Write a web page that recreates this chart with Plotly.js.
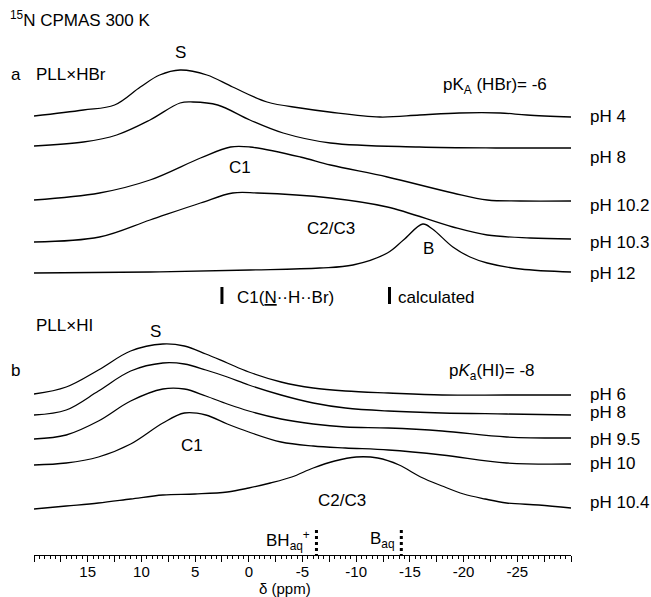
<!DOCTYPE html>
<html>
<head>
<meta charset="utf-8">
<script src="https://cdn.plot.ly/plotly-3.0.1.min.js"></script>
<style>
  html, body { margin: 0; padding: 0; background: #fff; }
  #plot { width: 651px; height: 597px; }
</style>
</head>
<body>
<div id="plot"></div>
<script>
// ---- 15N CPMAS spectra (chemical shift in ppm, intensity in arbitrary units) ----

// (a) PLL x HBr
const labelsA = ["pH 4", "pH 8", "pH 10.2", "pH 10.3", "pH 12"];
const ppmA_pH4   = [20, 15.4, 12.5, 10.1, 8.3, 6.4, 3.9, 1.5, -1.7, -4.8, -7.5, -12.2, -15.9, -19.6, -23.4, -25.9, -30];
const intA_pH4   = [1, 7, 12, 30, 42, 47, 42, 30, 15, 9, 5, 0, 2, 4, 4, 2, 0];
const ppmA_pH8   = [20, 15.4, 12.3, 9.2, 6.4, 5.2, 2.9, -0.1, -3.2, -7.6, -15.9, -23, -30];
const intA_pH8   = [2, 6, 13, 28, 45, 46, 43, 28, 15, 5, 1, 0, 0];
const ppmA_pH102 = [20, 13.9, 9.2, 4.5, 1.7, -0.1, -4.8, -7.6, -12.9, -19.0, -22.2, -25.3, -30];
const intA_pH102 = [1, 8, 21, 43, 54, 54, 44, 36, 24, 8, 1, 0, 0];
const ppmA_pH103 = [20, 13.9, 9.2, 4.5, 1.5, -0.8, -7.6, -12.9, -19.0, -22.2, -26.2, -30];
const intA_pH103 = [-3, 2, 19, 36, 46, 46, 41, 32, 12, 4, 1, 0];
const ppmA_pH12  = [20, 9.2, -0.1, -6.6, -9.7, -12.9, -14.4, -16.2, -17.1, -19.0, -20.6, -22.2, -25.3, -30];
const intA_pH12  = [-1, 0, 2, 4, 7, 19, 32, 48, 43, 25, 15, 9, 3, 0];

// (b) PLL x HI
const labelsB = ["pH 6", "pH 8", "pH 9.5", "pH 10", "pH 10.4"];
const ppmB = [20, 17, 14, 11, 8, 6, 4, 2, 0, -3, -6, -9, -13, -18, -24, -30];
const intB_pH6   = [1, 8, 25, 44, 51, 49, 41, 32, 23, 13, 7, 4, 2, 0, 0, 0];
const intB_pH8   = [0, 5, 24, 44, 52, 51, 45, 38, 30, 20, 12, 7, 4, 2, 1, 0];
const intB_pH95  = [-1, 3, 17, 37, 49, 49, 42, 34, 27, 19, 14, 11, 10, 7, 1, 0];
const intB_pH10  = [-1, 1, 7, 20, 41, 51, 49, 40, 32, 22, 18, 16, 14, 9, 1, 0];
const ppmB_pH104 = [20, 17, 14, 11, 8, 5, 2, 0, -2, -4, -6, -8, -10, -12, -14, -16, -18, -20, -22, -24, -27, -30];
const intB_pH104 = [-1, 2, 5, 9, 13, 14, 16, 20, 25, 31, 40, 47, 51, 50, 43, 31, 22, 14, 9, 5, 3, 0];

// reference shifts (ppm)
const calcShifts = [2.5, -13.1];          // C1(N..H..Br), calculated
const aqShifts   = [-6.3, -14.2];         // BH_aq+, B_aq
const aqLabels   = ["BH<sub>aq</sub><sup>+</sup>", "B<sub>aq</sub>"];

// x-axis ticks
const tickPos  = [20, 17.5, 15, 12.5, 10, 7.5, 5, 2.5, 0, -2.5, -5, -7.5, -10, -12.5, -15, -17.5, -20, -22.5, -25, -27.5, -30];
const tickText = ["", "", "15", "", "10", "", "5", "", "0", "", "-5", "", "-10", "", "-15", "", "-20", "", "-25", "", ""];

// ---- layout geometry (pixels of the 651x597 page) ----
const W = 651, H = 597;
const L = 34, R = 571, AXIS_Y = 555;
const X0 = 20, X1 = -30;
const px2p = px => (px - L) / (R - L);     // page x -> paper x
const py2p = py => (AXIS_Y - py) / AXIS_Y; // page y -> paper y
const py2y = py => AXIS_Y - py;            // page y -> data y

// stacking: baseline row (page pixel) of each spectrum, and label row
const rowsA   = [117, 148, 201, 239, 272];
const labRowA = [117, 157, 205, 242, 273];
const rowsB   = [395, 415, 438, 464, 508];
const labRowB = [394, 412, 439, 463, 502];

const FONT = "Liberation Sans, Arial, Helvetica, sans-serif";
const LW = 1.3;

const spectraA = [[ppmA_pH4, intA_pH4], [ppmA_pH8, intA_pH8], [ppmA_pH102, intA_pH102], [ppmA_pH103, intA_pH103], [ppmA_pH12, intA_pH12]];
const spectraB = [[ppmB, intB_pH6], [ppmB, intB_pH8], [ppmB, intB_pH95], [ppmB, intB_pH10], [ppmB_pH104, intB_pH104]];

const traces = [];
function addSpectrum(ppm, inten, row, name) {
  const base = py2y(row);
  traces.push({
    type: "scatter", mode: "lines", name: name,
    x: ppm, y: inten.map(v => base + v),
    line: { color: "black", width: LW, shape: "spline", smoothing: 1 },
    hoverinfo: "skip", showlegend: false
  });
}
spectraA.forEach((s, i) => addSpectrum(s[0], s[1], rowsA[i], labelsA[i]));
spectraB.forEach((s, i) => addSpectrum(s[0], s[1], rowsB[i], labelsB[i]));

// solid markers for the calculated shifts
calcShifts.forEach(v => traces.push({
  type: "scatter", mode: "lines", x: [v, v], y: [py2y(287), py2y(304)],
  line: { color: "black", width: 3 }, hoverinfo: "skip", showlegend: false
}));
// dotted markers for the aqueous shifts
aqShifts.forEach(v => traces.push({
  type: "scatter", mode: "lines", x: [v, v], y: [py2y(530), py2y(555)],
  line: { color: "black", width: 3, dash: "dot" }, hoverinfo: "skip", showlegend: false
}));

const annotations = [];
function txt(text, px, py, anchor, size) {
  annotations.push({
    text: text, x: px2p(px), y: py2p(py), xref: "paper", yref: "paper",
    xanchor: anchor || "left", yanchor: "middle", showarrow: false,
    font: { family: FONT, size: size || 17, color: "black" }
  });
}
labelsA.forEach((t, i) => txt(t, 588, labRowA[i]));
labelsB.forEach((t, i) => txt(t, 588, labRowB[i]));

txt("<sup>15</sup>N CPMAS 300 K", 8, 19, "left", 17);
txt("a", 9, 75);
txt("PLL\u00d7HBr", 34, 75);
txt("S", 180, 52, "center");
txt("pK<sub>A</sub> (HBr)= -6", 441, 86);
txt("C1", 240, 167, "center");
txt("C2/C3", 305, 228);
txt("B", 428, 249, "center");
txt("C1(<u>N</u>\u00b7\u00b7H\u00b7\u00b7Br)", 235, 297);
txt("calculated", 396, 297);
txt("PLL\u00d7HI", 34, 325);
txt("S", 155, 331, "center");
txt("b", 9, 370);
txt("p<i>K</i><sub>a</sub>(HI)= -8", 447, 372);
txt("C1", 192, 445, "center");
txt("C2/C3", 316, 500);
aqShifts.forEach((v, i) => annotations.push({
  text: aqLabels[i], x: v, y: py2y(540), xref: "x", yref: "y",
  xanchor: "right", xshift: -4, yanchor: "middle", showarrow: false,
  font: { family: FONT, size: 17, color: "black" }
}));
txt("\u03b4 (ppm)", 285, 588, "center", 15);

const layout = {
  width: W, height: H,
  margin: { l: L, r: W - R, t: 0, b: H - AXIS_Y },
  paper_bgcolor: "white", plot_bgcolor: "white",
  showlegend: false,
  xaxis: {
    range: [X0, X1], showgrid: false, zeroline: false,
    showline: true, linecolor: "black", linewidth: 1.3,
    ticks: "outside", ticklen: 6, tickwidth: 1, tickcolor: "black",
    ticklabelstandoff: -3,
    tickmode: "array", tickvals: tickPos, ticktext: tickText,
    tickfont: { family: FONT, size: 15, color: "black" },
    minor: { tickmode: "linear", tick0: 0, dtick: 0.5, ticks: "outside", ticklen: 3, tickwidth: 1, tickcolor: "black", showgrid: false },
    fixedrange: true
  },
  yaxis: { range: [0, AXIS_Y], visible: false, fixedrange: true },
  annotations: annotations
};

Plotly.newPlot("plot", traces, layout, { displayModeBar: false, staticPlot: true });
</script>
</body>
</html>
